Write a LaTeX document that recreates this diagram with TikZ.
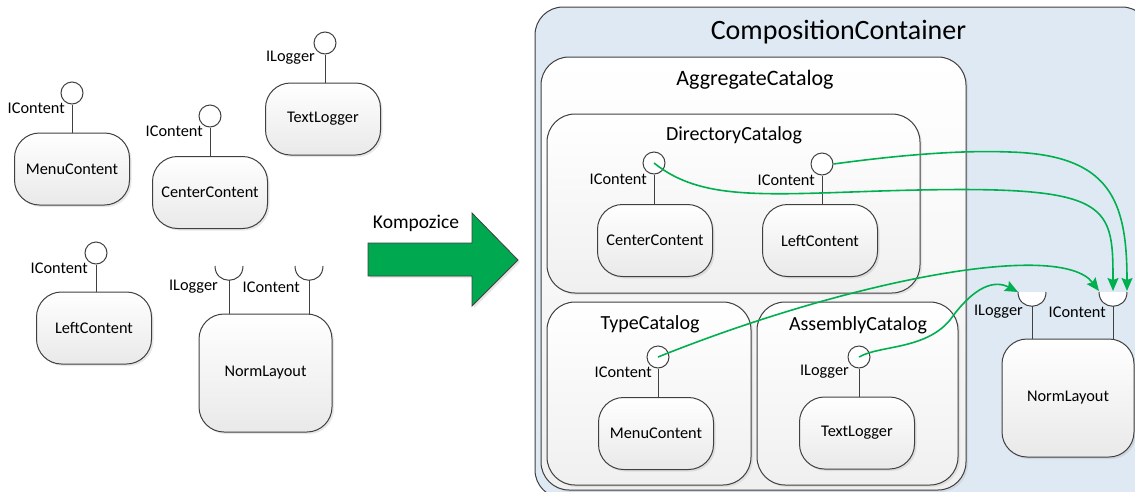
\documentclass[tikz,border=0pt]{standalone}
\usepackage{fontspec}
\setmainfont{Carlito}
\usepackage{tikz}
\usetikzlibrary{arrows.meta, shadows, positioning, calc}
\definecolor{linegray}{HTML}{404040}
\definecolor{boxgray}{HTML}{E9E9E9}
\definecolor{wiregreen}{HTML}{00B050}
\definecolor{arrowgreen}{HTML}{00A84F}
\definecolor{contblue}{HTML}{DFE9F3}
\newcommand{\compfnt}{\fontsize{16.3}{19}\selectfont}
\tikzset{
  comp/.style={draw=linegray, line width=1pt, rounded corners=25pt,
    minimum width=115pt, minimum height=72pt, top color=white, bottom color=boxgray,
    drop shadow={opacity=0.18, shadow xshift=2pt, shadow yshift=-2pt}, font=\compfnt},
  lolli/.style={circle, draw=linegray, line width=1pt, fill=white, minimum size=22pt, inner sep=0pt},
  iface/.style={inner sep=0pt, anchor=east, font=\compfnt},
  stem/.style={draw=linegray, line width=1pt},
  holder/.style={draw=linegray, line width=1pt, rounded corners=28pt, top color=white, bottom color=boxgray!70,
    drop shadow={opacity=0.15, shadow xshift=2pt, shadow yshift=-2pt}},
  wire/.style={draw=wiregreen, line width=1.6pt, -{Stealth[length=13pt, width=11pt, inset=2pt]}},
  socket/.style={draw=linegray, line width=1pt, fill=white}
}

\begin{document}
\begin{tikzpicture}[x=1pt, y=-1pt]
  \useasboundingbox (0,0) rectangle (1135,491);

  % left: loose parts
  \node[comp] (menuL) at (72,169) {MenuContent};
  \node[lolli] (menuLp) at (72,93) {};
  \node[iface] at (65,108) {IContent};
  \draw[stem] (menuLp.south) -- (menuLp.south |- menuL.north);

  \node[comp] (centerL) at (210,192.5) {CenterContent};
  \node[lolli] (centerLp) at (210,116) {};
  \node[iface] at (203,131) {IContent};
  \draw[stem] (centerLp.south) -- (centerLp.south |- centerL.north);

  \node[comp] (textL) at (323,119) {TextLogger};
  \node[lolli] (textLp) at (325,43) {};
  \node[iface] at (315,58) {ILogger};
  \draw[stem] (textLp.south) -- (textLp.south |- textL.north);

  \node[comp] (leftL) at (94,328) {LeftContent};
  \node[lolli] (leftLp) at (96,253) {};
  \node[iface] at (88,268) {IContent};
  \draw[stem] (leftLp.south) -- (leftLp.south |- leftL.north);

  \node[comp, minimum width=133pt, minimum height=118pt] (normL) at (265.5,373) {NormLayout};
  \coordinate (logL) at (229,266);
  \coordinate (cntL) at (309,266);
  \draw[socket] ($(logL)+(-14,0)$) .. controls ($(logL)+(-14,19)$) and ($(logL)+(14,19)$) .. ($(logL)+(14,0)$);
  \draw[socket] ($(cntL)+(-14,0)$) .. controls ($(cntL)+(-14,19)$) and ($(cntL)+(14,19)$) .. ($(cntL)+(14,0)$);
  \draw[stem] ($(logL)+(0,14)$) -- (logL |- normL.north);
  \draw[stem] ($(cntL)+(0,14)$) -- (cntL |- normL.north);
  \node[iface] at (218,287) {ILogger};
  \node[iface] at (300,287) {IContent};

  % big arrow
  \draw[linegray, fill=arrowgreen, line width=0.8pt, drop shadow={opacity=0.2, shadow xshift=2pt, shadow yshift=-2pt}]
    (368,243) -- (472,243) -- (472,213) -- (518,260) -- (472,306) -- (472,276) -- (368,276) -- cycle;
  \node[font=\fontsize{19.5}{22}\selectfont] (komp) at (416,223) {Kompozice};

  % right: container
  \draw[draw=linegray, line width=1pt, rounded corners=28pt, fill=contblue] (535,7) rectangle (1150,498);
  \node[font=\fontsize{28}{32}\selectfont] (contT) at (838.5,32) {CompositionContainer};
  \draw[holder] (541,57) rectangle (966,490);
  \node[font=\fontsize{22}{26}\selectfont] (aggT) at (755,80) {AggregateCatalog};
  \draw[holder] (547,114) rectangle (920,293);
  \node[font=\fontsize{20}{24}\selectfont] (dirT) at (734,135) {DirectoryCatalog};
  \draw[holder] (547,302) rectangle (751,485);
  \node[font=\fontsize{20}{24}\selectfont] (typeT) at (650,324) {TypeCatalog};
  \draw[holder] (757,302) rectangle (958,485);
  \node[font=\fontsize{20}{24}\selectfont] (asmT) at (858,325) {AssemblyCatalog};

  \node[comp] (centerR) at (655,240.5) {CenterContent};
  \node[lolli] (centerRp) at (654,163) {};
  \node[iface] at (647,179) {IContent};
  \draw[stem] (centerRp.south) -- (centerRp.south |- centerR.north);

  \node[comp] (leftR) at (820,240.5) {LeftContent};
  \node[lolli] (leftRp) at (822,164) {};
  \node[iface] at (815,180) {IContent};
  \draw[stem] (leftRp.south) -- (leftRp.south |- leftR.north);

  \node[comp] (menuR) at (656,433.5) {MenuContent};
  \node[lolli] (menuRp) at (658,357) {};
  \node[iface] at (652,372) {IContent};
  \draw[stem] (menuRp.south) -- (menuRp.south |- menuR.north);

  \node[comp] (textR) at (857,433) {TextLogger};
  \node[lolli] (textRp) at (859,357) {};
  \node[iface] at (849,372) {ILogger};
  \draw[stem] (textRp.south) -- (textRp.south |- textR.north);

  \node[comp, minimum width=132pt, minimum height=118pt] (normR) at (1068,398) {NormLayout};
  \coordinate (logR) at (1032,292);
  \coordinate (cntR) at (1113,292);
  \draw[socket] ($(logR)+(-14,0)$) .. controls ($(logR)+(-14,19)$) and ($(logR)+(14,19)$) .. ($(logR)+(14,0)$);
  \draw[socket] ($(cntR)+(-14,0)$) .. controls ($(cntR)+(-14,19)$) and ($(cntR)+(14,19)$) .. ($(cntR)+(14,0)$);
  \draw[stem] ($(logR)+(0,14)$) -- (logR |- normR.north);
  \draw[stem] ($(cntR)+(0,14)$) -- (cntR |- normR.north);
  \node[iface] at (1023,312) {ILogger};
  \node[iface] at (1106,312) {IContent};

  % wiring
  \coordinate (logRw) at (1018,292);
  \coordinate (cntRw) at (1099,291);
  \coordinate (cntRm) at (1113,291);
  \coordinate (cntRe) at (1127,291);
  \draw[wire] (menuRp.center) .. controls (850,280) and (1060,240) .. (cntRw);
  \draw[wire] (centerRp.center) .. controls (700,200) and (760,195) .. (880,191)
    .. controls (1110,184) and (1113,200) .. (cntRm);
  \draw[wire] (leftRp.east) .. controls (900,155) and (960,150) .. (1010,152)
    .. controls (1110,155) and (1127,200) .. (cntRe);
  \draw[wire] (textRp.center) .. controls (880,345) and (925,350) .. (950,320)
    .. controls (975,285) and (995,280) .. (logRw);
\end{tikzpicture}
\end{document}
